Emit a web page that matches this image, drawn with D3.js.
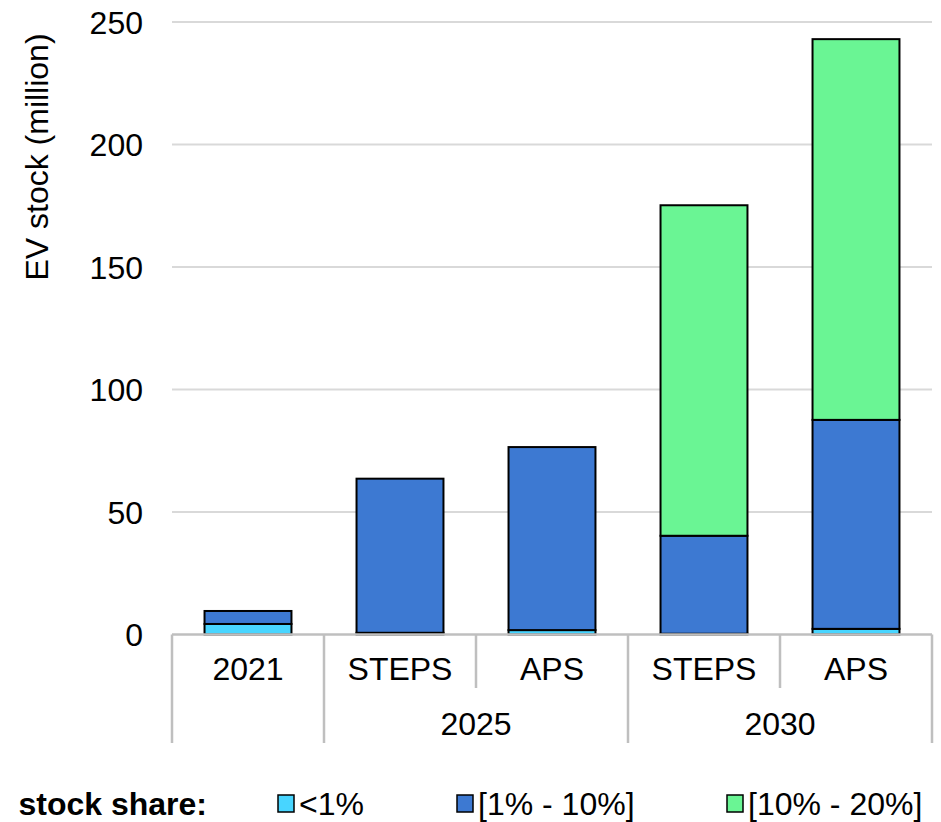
<!DOCTYPE html>
<html>
<head>
<meta charset="utf-8">
<script src="https://cdn.jsdelivr.net/npm/d3@7"></script>
<style>
  html, body { margin: 0; padding: 0; background: #fff; }
  svg { display: block; font-family: "Liberation Sans", Arial, sans-serif; }
</style>
</head>
<body>
<svg id="chart" width="941" height="822"></svg>
<script>
// ---- data ----
const categories = ["2021", "STEPS", "APS", "STEPS", "APS"];
const groups = ["", "2025", "2025", "2030", "2030"];
const seriesNames = ["<1%", "[1% - 10%]", "[10% - 20%]"];
const shareBelow1 = [4.3, 0.7, 1.8, 0.3, 2.3];
const share1to10 = [5.3, 62.9, 74.7, 40.0, 85.3];
const share10to20 = [0, 0, 0, 134.9, 155.4];
const yTicks = [0, 50, 100, 150, 200, 250];
const yTitle = "EV stock (million)";
const legendTitle = "stock share:";

const colors = ["#48D5FF", "#3D79D2", "#6AF594"];
const FS = 32;

const svg = d3.select("#chart");
const keys = categories.map((c, i) => i);

const x = d3.scaleBand().domain(keys).range([172, 932]).paddingInner(0.428).paddingOuter(0.214);
const y = d3.scaleLinear().domain([0, 250]).range([634.5, 22]);

// gridlines
svg.append("g").selectAll("line").data(yTicks.filter(d => d > 0)).join("line")
  .attr("x1", 172).attr("x2", 932)
  .attr("y1", d => y(d)).attr("y2", d => y(d))
  .attr("stroke", "#d9d9d9").attr("stroke-width", 2);

// y axis labels
const yAxis = d3.axisLeft(y).tickValues(yTicks).tickSize(0).tickPadding(0);
const yg = svg.append("g").attr("transform", "translate(143,0)").call(yAxis);
yg.select(".domain").remove();
yg.selectAll("text").attr("font-size", FS).attr("fill", "#000")
  .attr("font-family", "Liberation Sans, Arial, sans-serif").attr("dy", "0.35em");

// y title
svg.append("text")
  .attr("transform", "translate(48,157) rotate(-90)")
  .attr("text-anchor", "middle")
  .attr("font-size", FS)
  .text(yTitle);

// stacked bars
const rows = keys.map(i => ({ i, s0: shareBelow1[i], s1: share1to10[i], s2: share10to20[i] }));
const stack = d3.stack().keys(["s0", "s1", "s2"]);
const stacked = stack(rows);

svg.append("g").selectAll("g").data(stacked).join("g")
  .attr("fill", (d, k) => colors[k])
  .selectAll("rect").data(d => d.filter(p => p[1] - p[0] > 0)).join("rect")
  .attr("x", d => x(d.data.i))
  .attr("width", x.bandwidth())
  .attr("y", d => y(d[1]))
  .attr("height", d => y(d[0]) - y(d[1]))
  .attr("stroke", "#000").attr("stroke-width", 2);

// category axis
const axisColor = "#bfbfbf";
const axg = svg.append("g");
axg.append("line").attr("x1", 172).attr("x2", 932).attr("y1", y(0)).attr("y2", y(0))
  .attr("stroke", axisColor).attr("stroke-width", 2.5);

const step = x.step();
const left = x.range()[0];
const bounds = d3.range(categories.length + 1).map(k => {
  const isGroupBoundary = k === 0 || k === categories.length || groups[k] !== groups[k - 1];
  return { xpos: left + k * step, bottom: isGroupBoundary ? 743 : 688 };
});
axg.selectAll("line.sep").data(bounds).join("line").attr("class", "sep")
  .attr("x1", d => d.xpos).attr("x2", d => d.xpos)
  .attr("y1", y(0)).attr("y2", d => d.bottom)
  .attr("stroke", axisColor).attr("stroke-width", 2.5);

// level-1 labels
axg.selectAll("text.cat").data(keys).join("text").attr("class", "cat")
  .attr("x", i => x(i) + x.bandwidth() / 2)
  .attr("y", 680)
  .attr("text-anchor", "middle").attr("font-size", FS)
  .text(i => categories[i]);

// level-2 labels (group)
const groupNames = Array.from(new Set(groups.filter(g => g)));
const groupInfo = groupNames.map(g => {
  const idx = keys.filter(i => groups[i] === g);
  return { g, cx: (x(idx[0]) + x(idx[idx.length - 1]) + x.bandwidth()) / 2 };
});
axg.selectAll("text.grp").data(groupInfo).join("text").attr("class", "grp")
  .attr("x", d => d.cx).attr("y", 735)
  .attr("text-anchor", "middle").attr("font-size", FS)
  .text(d => d.g);

// legend
const lg = svg.append("g");
lg.append("text").attr("x", 207).attr("y", 815).attr("text-anchor", "end")
  .attr("font-size", FS).attr("font-weight", "bold").text(legendTitle);
const legendX = [278, 457, 727];
const items = lg.selectAll("g.item").data(seriesNames).join("g").attr("class", "item")
  .attr("transform", (d, k) => `translate(${legendX[k]},0)`);
items.append("rect").attr("x", 0).attr("y", 795).attr("width", 16).attr("height", 17)
  .attr("fill", (d, k) => colors[k]).attr("stroke", "#000").attr("stroke-width", 1.5);
items.append("text").attr("x", 21).attr("y", 815).attr("font-size", FS).text(d => d);
</script>
</body>
</html>
